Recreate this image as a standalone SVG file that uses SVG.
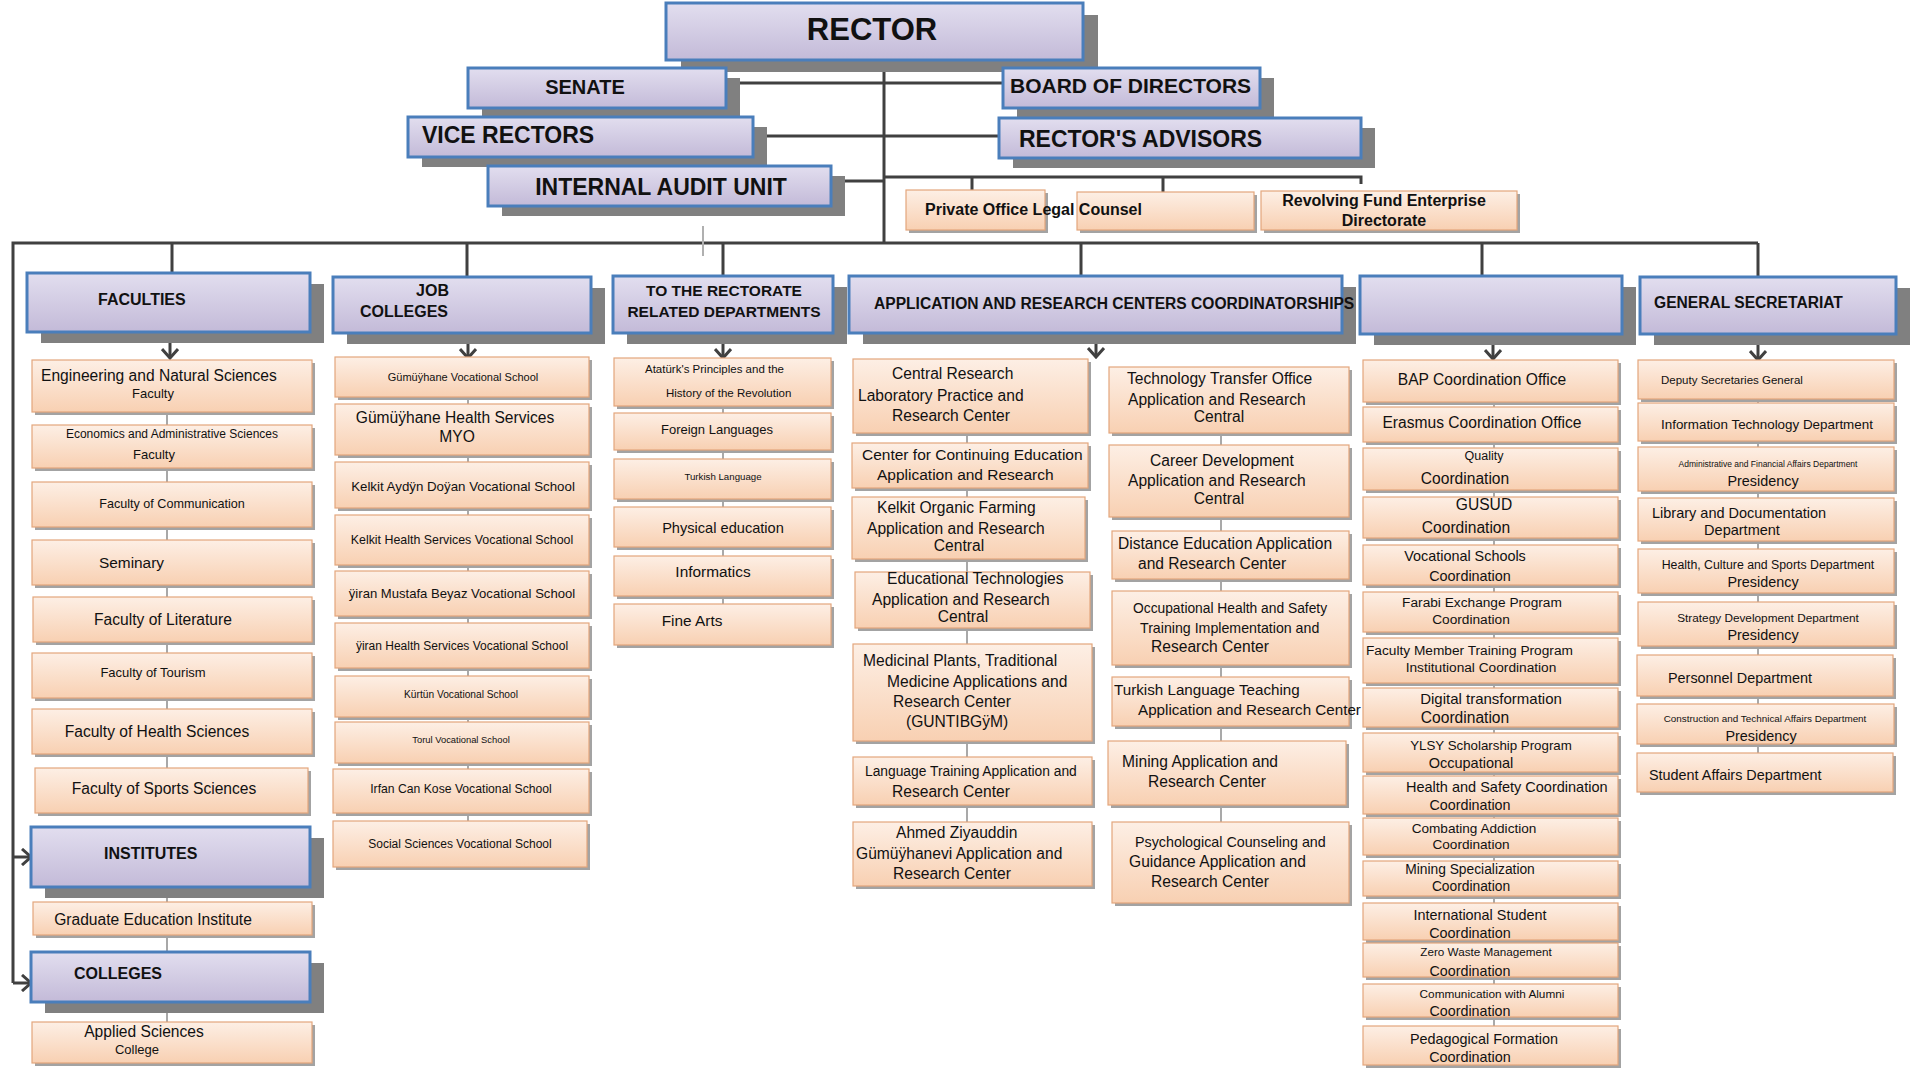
<svg xmlns="http://www.w3.org/2000/svg" width="1910" height="1072" viewBox="0 0 1910 1072">
<defs>
<linearGradient id="gP" x1="0" y1="0" x2="0" y2="1"><stop offset="0" stop-color="#e2deef"/><stop offset="1" stop-color="#c3bad8"/></linearGradient>
<linearGradient id="gO" x1="0" y1="0" x2="0" y2="1"><stop offset="0" stop-color="#fdefe5"/><stop offset="1" stop-color="#f8d0b2"/></linearGradient>
<marker id="ah" viewBox="0 0 12 18" refX="10" refY="9" markerWidth="12" markerHeight="18" markerUnits="userSpaceOnUse" orient="auto"><path d="M1,1 L10,9 L1,17" fill="none" stroke="#404040" stroke-width="3"/></marker>
<style>
.hb{fill:url(#gP);stroke:#4a7ebb;stroke-width:3}
.hs{fill:#808080}
.ob{fill:url(#gO);stroke:#e3a67c;stroke-width:1.2}
.os{fill:#a3a3a3}
.t{font-family:"Liberation Sans",Arial,Helvetica,sans-serif;fill:#111}
.b{font-weight:bold}
.m{text-anchor:middle}
.e{text-anchor:end}
.ln{stroke:#404040;stroke-width:3;fill:none}
.cn{stroke:#8c8c8c;stroke-width:1.5;fill:none}
</style>
</defs>
<rect width="1910" height="1072" fill="#ffffff"/>

<g id="connectors">
<path class="ln" d="M884,60 V243"/>
<path class="ln" d="M726,83 H1003"/>
<path class="ln" d="M753,136 H999"/>
<path class="ln" d="M831,181 H884"/>
<path class="ln" d="M884,177 H1361 V184 M972,177 V190 M1163,177 V192"/>
<path class="ln" d="M13,983 V243 H1758"/>
<path class="ln" d="M172,243 V273 M467,243 V277 M723,243 V276 M1081,243 V276 M1482,243 V276 M1758,243 V277"/>
<path class="ln" marker-end="url(#ah)" d="M170,332 V358"/>
<path class="ln" marker-end="url(#ah)" d="M468,333 V358"/>
<path class="ln" marker-end="url(#ah)" d="M723,333 V358"/>
<path class="ln" marker-end="url(#ah)" d="M1096,333 V357"/>
<path class="ln" marker-end="url(#ah)" d="M1493,334 V359"/>
<path class="ln" marker-end="url(#ah)" d="M1758,334 V360"/>
<path class="ln" marker-end="url(#ah)" d="M13,857 H31"/>
<path class="ln" marker-end="url(#ah)" d="M13,983 H31"/>
<path d="M703,226 V256" stroke="#b0b0b0" stroke-width="2"/>
<path class="cn" d="M167,412 V813 M167,887 V1022"/>
<path class="cn" d="M468,397 V821"/>
<path class="cn" d="M723,406 V604"/>
<path class="cn" d="M967,433 V822"/>
<path class="cn" d="M1221,433 V822"/>
<path class="cn" d="M1494,402 V1026"/>
<path class="cn" d="M1758,399 V753"/>
</g>

<g id="rector"><rect class="hs" x="681" y="15" width="417" height="57"/><rect class="hb" x="666" y="3" width="417" height="57"/><text class="t b m" x="872" y="40" font-size="31">RECTOR</text></g>
<g id="senate"><rect class="hs" x="482" y="78" width="258" height="40"/><rect class="hb" x="468" y="68" width="258" height="40"/><text class="t b m" x="585" y="94" font-size="20">SENATE</text></g>
<g id="vice-rectors"><rect class="hs" x="422" y="127" width="345" height="40"/><rect class="hb" x="408" y="117" width="345" height="40"/><text class="t b" x="422" y="143" font-size="23">VICE RECTORS</text></g>
<g id="internal-audit"><rect class="hs" x="502" y="176" width="343" height="40"/><rect class="hb" x="488" y="166" width="343" height="40"/><text class="t b m" x="661" y="195" font-size="23">INTERNAL AUDIT UNIT</text></g>
<g id="board"><rect class="hs" x="1017" y="78" width="257" height="40"/><rect class="hb" x="1003" y="68" width="257" height="40"/><text class="t b" x="1010" y="93" font-size="21">BOARD OF DIRECTORS</text></g>
<g id="advisors"><rect class="hs" x="1013" y="128" width="362" height="40"/><rect class="hb" x="999" y="118" width="362" height="40"/><text class="t b" x="1019" y="147" font-size="23">RECTOR'S ADVISORS</text></g>
<g id="empty-office"><rect class="os" x="1080" y="195" width="177" height="38"/><rect class="ob" x="1077" y="192" width="177" height="38"/></g>
<g id="private-office"><rect class="os" x="909" y="193" width="139" height="40"/><rect class="ob" x="906" y="190" width="139" height="40"/><text class="t b" x="925" y="215" font-size="16">Private Office Legal Counsel</text></g>
<g id="revolving-fund"><rect class="os" x="1264" y="194" width="256" height="39"/><rect class="ob" x="1261" y="191" width="256" height="39"/><text class="t b m" x="1384" y="206" font-size="16">Revolving Fund Enterprise</text><text class="t b m" x="1384" y="226" font-size="16">Directorate</text></g>

<g id="faculties"><rect class="hs" x="41" y="284" width="283" height="59"/><rect class="hb" x="27" y="273" width="283" height="59"/><text class="t b" x="98" y="305" font-size="16">FACULTIES</text></g>
<g id="f-engineering"><rect class="os" x="35" y="363" width="280" height="52"/><rect class="ob" x="32" y="360" width="280" height="52"/><text class="t" x="41" y="381" font-size="15.6">Engineering and Natural Sciences</text><text class="t m" x="153" y="398" font-size="13">Faculty</text></g>
<g id="f-economics"><rect class="os" x="35" y="428" width="280" height="43"/><rect class="ob" x="32" y="425" width="280" height="43"/><text class="t m" x="172" y="438" font-size="12">Economics and Administrative Sciences</text><text class="t m" x="154" y="459" font-size="13">Faculty</text></g>
<g id="f-communication"><rect class="os" x="35" y="485" width="280" height="45"/><rect class="ob" x="32" y="482" width="280" height="45"/><text class="t m" x="172" y="508" font-size="12.6">Faculty of Communication</text></g>
<g id="f-seminary"><rect class="os" x="35" y="543" width="280" height="45"/><rect class="ob" x="32" y="540" width="280" height="45"/><text class="t" x="99" y="568" font-size="15.4">Seminary</text></g>
<g id="f-literature"><rect class="os" x="36" y="600" width="279" height="45"/><rect class="ob" x="33" y="597" width="279" height="45"/><text class="t m" x="163" y="625" font-size="15.6">Faculty of Literature</text></g>
<g id="f-tourism"><rect class="os" x="35" y="656" width="280" height="45"/><rect class="ob" x="32" y="653" width="280" height="45"/><text class="t m" x="153" y="677" font-size="13">Faculty of Tourism</text></g>
<g id="f-health"><rect class="os" x="35" y="712" width="280" height="45"/><rect class="ob" x="32" y="709" width="280" height="45"/><text class="t m" x="157" y="737" font-size="15.6">Faculty of Health Sciences</text></g>
<g id="f-sports"><rect class="os" x="38" y="771" width="273" height="45"/><rect class="ob" x="35" y="768" width="273" height="45"/><text class="t m" x="164" y="794" font-size="15.6">Faculty of Sports Sciences</text></g>
<g id="institutes"><rect class="hs" x="45" y="838" width="279" height="60"/><rect class="hb" x="31" y="827" width="279" height="60"/><text class="t b" x="104" y="859" font-size="16">INSTITUTES</text></g>
<g id="graduate"><rect class="os" x="36" y="905" width="279" height="33"/><rect class="ob" x="33" y="902" width="279" height="33"/><text class="t m" x="153" y="925" font-size="15.6">Graduate Education Institute</text></g>
<g id="colleges"><rect class="hs" x="45" y="963" width="279" height="50"/><rect class="hb" x="31" y="952" width="279" height="50"/><text class="t b" x="74" y="979" font-size="16">COLLEGES</text></g>
<g id="applied"><rect class="os" x="35" y="1025" width="280" height="41"/><rect class="ob" x="32" y="1022" width="280" height="41"/><text class="t m" x="144" y="1037" font-size="15.6">Applied Sciences</text><text class="t m" x="137" y="1054" font-size="13">College</text></g>

<g id="job-colleges"><rect class="hs" x="347" y="288" width="258" height="56"/><rect class="hb" x="333" y="277" width="258" height="56"/><text class="t b e" x="449" y="296" font-size="16">JOB</text><text class="t b e" x="448" y="317" font-size="16">COLLEGES</text></g>
<g id="j1"><rect class="os" x="338" y="360" width="254" height="40"/><rect class="ob" x="335" y="357" width="254" height="40"/><text class="t m" x="463" y="381" font-size="11">Gümüÿhane Vocational School</text></g>
<g id="j2"><rect class="os" x="338" y="407" width="254" height="51"/><rect class="ob" x="335" y="404" width="254" height="51"/><text class="t m" x="455" y="423" font-size="15.6">Gümüÿhane Health Services</text><text class="t m" x="457" y="442" font-size="15.6">MYO</text></g>
<g id="j3"><rect class="os" x="338" y="465" width="254" height="46"/><rect class="ob" x="335" y="462" width="254" height="46"/><text class="t m" x="463" y="491" font-size="13.3">Kelkit Aydÿn Doÿan Vocational School</text></g>
<g id="j4"><rect class="os" x="338" y="518" width="254" height="50"/><rect class="ob" x="335" y="515" width="254" height="50"/><text class="t m" x="462" y="544" font-size="12.4">Kelkit Health Services Vocational School</text></g>
<g id="j5"><rect class="os" x="338" y="574" width="254" height="45"/><rect class="ob" x="335" y="571" width="254" height="45"/><text class="t m" x="462" y="598" font-size="13.1">ÿiran Mustafa Beyaz Vocational School</text></g>
<g id="j6"><rect class="os" x="338" y="626" width="254" height="45"/><rect class="ob" x="335" y="623" width="254" height="45"/><text class="t m" x="462" y="650" font-size="12">ÿiran Health Services Vocational School</text></g>
<g id="j7"><rect class="os" x="338" y="679" width="254" height="41"/><rect class="ob" x="335" y="676" width="254" height="41"/><text class="t m" x="461" y="698" font-size="10.2">Kürtün Vocational School</text></g>
<g id="j8"><rect class="os" x="338" y="725" width="254" height="41"/><rect class="ob" x="335" y="722" width="254" height="41"/><text class="t m" x="461" y="743" font-size="9.4">Torul Vocational School</text></g>
<g id="j9"><rect class="os" x="336" y="772" width="256" height="44"/><rect class="ob" x="333" y="769" width="256" height="44"/><text class="t m" x="461" y="793" font-size="12.2">Irfan Can Kose Vocational School</text></g>
<g id="j10"><rect class="os" x="336" y="824" width="254" height="46"/><rect class="ob" x="333" y="821" width="254" height="46"/><text class="t m" x="460" y="848" font-size="12">Social Sciences Vocational School</text></g>

<g id="rectorate-depts"><rect class="hs" x="627" y="287" width="220" height="57"/><rect class="hb" x="613" y="276" width="220" height="57"/><text class="t b m" x="724" y="296" font-size="15.5">TO THE RECTORATE</text><text class="t b m" x="724" y="317" font-size="15.5">RELATED DEPARTMENTS</text></g>
<g id="r1"><rect class="os" x="617" y="361" width="217" height="48"/><rect class="ob" x="614" y="358" width="217" height="48"/><text class="t" x="645" y="373" font-size="11.5">Atatürk's Principles and the</text><text class="t" x="666" y="397" font-size="11.5">History of the Revolution</text></g>
<g id="r2"><rect class="os" x="617" y="416" width="217" height="37"/><rect class="ob" x="614" y="413" width="217" height="37"/><text class="t m" x="717" y="434" font-size="13">Foreign Languages</text></g>
<g id="r3"><rect class="os" x="617" y="462" width="217" height="40"/><rect class="ob" x="614" y="459" width="217" height="40"/><text class="t m" x="723" y="480" font-size="9.7">Turkish Language</text></g>
<g id="r4"><rect class="os" x="617" y="510" width="217" height="40"/><rect class="ob" x="614" y="507" width="217" height="40"/><text class="t m" x="723" y="533" font-size="14.6">Physical education</text></g>
<g id="r5"><rect class="os" x="617" y="559" width="217" height="40"/><rect class="ob" x="614" y="556" width="217" height="40"/><text class="t m" x="713" y="577" font-size="15.4">Informatics</text></g>
<g id="r6"><rect class="os" x="617" y="607" width="217" height="41"/><rect class="ob" x="614" y="604" width="217" height="41"/><text class="t m" x="692" y="626" font-size="15.4">Fine Arts</text></g>

<g id="coordination"><rect class="hs" x="1374" y="287" width="262" height="58"/><rect class="hb" x="1360" y="276" width="262" height="58"/></g>
<g id="app-research"><rect class="hs" x="863" y="287" width="493" height="57"/><rect class="hb" x="849" y="276" width="493" height="57"/><text class="t b" x="874" y="309" font-size="15.6">APPLICATION AND RESEARCH CENTERS COORDINATORSHIPS</text></g>
<g id="a1"><rect class="os" x="856" y="362" width="235" height="74"/><rect class="ob" x="853" y="359" width="235" height="74"/><text class="t" font-size="15.6"><tspan x="892" y="379">Central Research</tspan><tspan x="858" y="401">Laboratory Practice and</tspan><tspan x="892" y="421">Research Center</tspan></text></g>
<g id="a2"><rect class="os" x="855" y="446" width="236" height="45"/><rect class="ob" x="852" y="443" width="236" height="45"/><text class="t" font-size="15.5"><tspan x="862" y="460">Center for Continuing Education</tspan><tspan x="877" y="480">Application and Research</tspan></text></g>
<g id="a3"><rect class="os" x="855" y="500" width="233" height="62"/><rect class="ob" x="852" y="497" width="233" height="62"/><text class="t" font-size="15.6"><tspan x="877" y="513">Kelkit Organic Farming</tspan><tspan x="867" y="534">Application and Research</tspan><tspan x="959" y="551" text-anchor="middle">Central</tspan></text></g>
<g id="a4"><rect class="os" x="858" y="575" width="235" height="56"/><rect class="ob" x="855" y="572" width="235" height="56"/><text class="t" font-size="15.6"><tspan x="887" y="584">Educational Technologies</tspan><tspan x="872" y="605">Application and Research</tspan><tspan x="963" y="622" text-anchor="middle">Central</tspan></text></g>
<g id="a5"><rect class="os" x="856" y="647" width="239" height="97"/><rect class="ob" x="853" y="644" width="239" height="97"/><text class="t" font-size="15.6"><tspan x="863" y="666">Medicinal Plants, Traditional</tspan><tspan x="887" y="687">Medicine Applications and</tspan><tspan x="893" y="707">Research Center</tspan><tspan x="906" y="727">(GUNTIBGÿM)</tspan></text></g>
<g id="a6"><rect class="os" x="856" y="760" width="239" height="48"/><rect class="ob" x="853" y="757" width="239" height="48"/><text class="t" x="865" y="776" font-size="13.8">Language Training Application and</text><text class="t" x="892" y="797" font-size="15.6">Research Center</text></g>
<g id="a7"><rect class="os" x="856" y="825" width="239" height="64"/><rect class="ob" x="853" y="822" width="239" height="64"/><text class="t" font-size="15.6"><tspan x="896" y="838">Ahmed Ziyauddin</tspan><tspan x="856" y="859">Gümüÿhanevi Application and</tspan><tspan x="893" y="879">Research Center</tspan></text></g>
<g id="b1"><rect class="os" x="1112" y="370" width="240" height="66"/><rect class="ob" x="1109" y="367" width="240" height="66"/><text class="t" font-size="15.6"><tspan x="1127" y="384">Technology Transfer Office</tspan><tspan x="1128" y="405">Application and Research</tspan><tspan x="1219" y="422" text-anchor="middle">Central</tspan></text></g>
<g id="b2"><rect class="os" x="1112" y="448" width="240" height="72"/><rect class="ob" x="1109" y="445" width="240" height="72"/><text class="t" font-size="15.6"><tspan x="1150" y="466">Career Development</tspan><tspan x="1128" y="486">Application and Research</tspan><tspan x="1219" y="504" text-anchor="middle">Central</tspan></text></g>
<g id="b3"><rect class="os" x="1115" y="534" width="237" height="48"/><rect class="ob" x="1112" y="531" width="237" height="48"/><text class="t" font-size="15.6"><tspan x="1118" y="549">Distance Education Application</tspan><tspan x="1138" y="569">and Research Center</tspan></text></g>
<g id="b4"><rect class="os" x="1115" y="594" width="237" height="74"/><rect class="ob" x="1112" y="591" width="237" height="74"/><text class="t" x="1133" y="613" font-size="13.8">Occupational Health and Safety</text><text class="t" x="1140" y="633" font-size="14.2">Training Implementation and</text><text class="t" x="1151" y="652" font-size="15.6">Research Center</text></g>
<g id="b5"><rect class="os" x="1115" y="680" width="237" height="49"/><rect class="ob" x="1112" y="677" width="237" height="49"/><text class="t" font-size="15.2"><tspan x="1114" y="695">Turkish Language Teaching</tspan><tspan x="1138" y="715">Application and Research Center</tspan></text></g>
<g id="b6"><rect class="os" x="1111" y="744" width="238" height="64"/><rect class="ob" x="1108" y="741" width="238" height="64"/><text class="t" font-size="15.6"><tspan x="1122" y="767">Mining Application and</tspan><tspan x="1148" y="787">Research Center</tspan></text></g>
<g id="b7"><rect class="os" x="1115" y="825" width="237" height="81"/><rect class="ob" x="1112" y="822" width="237" height="81"/><text class="t" x="1135" y="847" font-size="14.3">Psychological Counseling and</text><text class="t" font-size="15.6"><tspan x="1129" y="867">Guidance Application and</tspan><tspan x="1151" y="887">Research Center</tspan></text></g>

<g id="c1"><rect class="os" x="1366" y="363" width="255" height="42"/><rect class="ob" x="1363" y="360" width="255" height="42"/><text class="t m" x="1482" y="385" font-size="15.6">BAP Coordination Office</text></g>
<g id="c2"><rect class="os" x="1366" y="410" width="255" height="35"/><rect class="ob" x="1363" y="407" width="255" height="35"/><text class="t m" x="1482" y="428" font-size="15.6">Erasmus Coordination Office</text></g>
<g id="c3"><rect class="os" x="1366" y="451" width="255" height="42"/><rect class="ob" x="1363" y="448" width="255" height="42"/><text class="t m" x="1484" y="460" font-size="12.5">Quality</text><text class="t m" x="1465" y="484" font-size="15.6">Coordination</text></g>
<g id="c4"><rect class="os" x="1366" y="500" width="255" height="41"/><rect class="ob" x="1363" y="497" width="255" height="41"/><text class="t m" x="1484" y="510" font-size="15.6">GUSUD</text><text class="t m" x="1466" y="533" font-size="15.6">Coordination</text></g>
<g id="c5"><rect class="os" x="1366" y="548" width="255" height="40"/><rect class="ob" x="1363" y="545" width="255" height="40"/><text class="t m" x="1465" y="561" font-size="14.4">Vocational Schools</text><text class="t m" x="1470" y="581" font-size="14.4">Coordination</text></g>
<g id="c6"><rect class="os" x="1366" y="595" width="255" height="40"/><rect class="ob" x="1363" y="592" width="255" height="40"/><text class="t m" x="1482" y="607" font-size="13.7">Farabi Exchange Program</text><text class="t m" x="1471" y="624" font-size="13.7">Coordination</text></g>
<g id="c7"><rect class="os" x="1366" y="641" width="255" height="45"/><rect class="ob" x="1363" y="638" width="255" height="45"/><text class="t" x="1366" y="655" font-size="13.7">Faculty Member Training Program</text><text class="t m" x="1481" y="672" font-size="13.7">Institutional Coordination</text></g>
<g id="c8"><rect class="os" x="1366" y="691" width="255" height="39"/><rect class="ob" x="1363" y="688" width="255" height="39"/><text class="t m" x="1491" y="704" font-size="15">Digital transformation</text><text class="t m" x="1465" y="723" font-size="15.6">Coordination</text></g>
<g id="c9"><rect class="os" x="1366" y="736" width="255" height="39"/><rect class="ob" x="1363" y="733" width="255" height="39"/><text class="t m" x="1491" y="750" font-size="13.3">YLSY Scholarship Program</text><text class="t m" x="1471" y="768" font-size="14.5">Occupational</text></g>
<g id="c10"><rect class="os" x="1366" y="779" width="255" height="38"/><rect class="ob" x="1363" y="776" width="255" height="38"/><text class="t" x="1406" y="792" font-size="14.5">Health and Safety Coordination</text><text class="t m" x="1470" y="810" font-size="14.3">Coordination</text></g>
<g id="c11"><rect class="os" x="1366" y="821" width="255" height="37"/><rect class="ob" x="1363" y="818" width="255" height="37"/><text class="t m" x="1474" y="833" font-size="13.6">Combating Addiction</text><text class="t m" x="1471" y="849" font-size="13.6">Coordination</text></g>
<g id="c12"><rect class="os" x="1366" y="864" width="255" height="35"/><rect class="ob" x="1363" y="861" width="255" height="35"/><text class="t m" x="1470" y="874" font-size="13.8">Mining Specialization</text><text class="t m" x="1471" y="891" font-size="13.8">Coordination</text></g>
<g id="c13"><rect class="os" x="1366" y="906" width="255" height="37"/><rect class="ob" x="1363" y="903" width="255" height="37"/><text class="t m" x="1480" y="920" font-size="14.4">International Student</text><text class="t m" x="1470" y="938" font-size="14.4">Coordination</text></g>
<g id="c14"><rect class="os" x="1366" y="946" width="255" height="34"/><rect class="ob" x="1363" y="943" width="255" height="34"/><text class="t m" x="1486" y="956" font-size="11.7">Zero Waste Management</text><text class="t m" x="1470" y="976" font-size="14.3">Coordination</text></g>
<g id="c15"><rect class="os" x="1366" y="987" width="255" height="33"/><rect class="ob" x="1363" y="984" width="255" height="33"/><text class="t m" x="1492" y="998" font-size="11.8">Communication with Alumni</text><text class="t m" x="1470" y="1016" font-size="14.3">Coordination</text></g>
<g id="c16"><rect class="os" x="1366" y="1029" width="255" height="39"/><rect class="ob" x="1363" y="1026" width="255" height="39"/><text class="t m" x="1484" y="1044" font-size="14.4">Pedagogical Formation</text><text class="t m" x="1470" y="1062" font-size="14.4">Coordination</text></g>

<g id="general-secretariat"><rect class="hs" x="1654" y="288" width="256" height="57"/><rect class="hb" x="1640" y="277" width="256" height="57"/><text class="t b" x="1654" y="308" font-size="15.6">GENERAL SECRETARIAT</text></g>
<g id="g1"><rect class="os" x="1641" y="363" width="256" height="39"/><rect class="ob" x="1638" y="360" width="256" height="39"/><text class="t" x="1661" y="384" font-size="11.5">Deputy Secretaries General</text></g>
<g id="g2"><rect class="os" x="1641" y="406" width="256" height="38"/><rect class="ob" x="1638" y="403" width="256" height="38"/><text class="t" x="1661" y="429" font-size="13.4">Information Technology Department</text></g>
<g id="g3"><rect class="os" x="1641" y="450" width="256" height="44"/><rect class="ob" x="1638" y="447" width="256" height="44"/><text class="t m" x="1768" y="467" font-size="8.5">Administrative and Financial Affairs Department</text><text class="t m" x="1763" y="486" font-size="14.4">Presidency</text></g>
<g id="g4"><rect class="os" x="1641" y="501" width="256" height="43"/><rect class="ob" x="1638" y="498" width="256" height="43"/><text class="t" x="1652" y="518" font-size="14.5">Library and Documentation</text><text class="t m" x="1742" y="535" font-size="14.5">Department</text></g>
<g id="g5"><rect class="os" x="1641" y="552" width="256" height="44"/><rect class="ob" x="1638" y="549" width="256" height="44"/><text class="t m" x="1768" y="569" font-size="12.3">Health, Culture and Sports Department</text><text class="t m" x="1763" y="587" font-size="14.4">Presidency</text></g>
<g id="g6"><rect class="os" x="1641" y="605" width="256" height="44"/><rect class="ob" x="1638" y="602" width="256" height="44"/><text class="t m" x="1768" y="622" font-size="11.8">Strategy Development Department</text><text class="t m" x="1763" y="640" font-size="14.4">Presidency</text></g>
<g id="g7"><rect class="os" x="1640" y="658" width="256" height="41"/><rect class="ob" x="1637" y="655" width="256" height="41"/><text class="t" x="1668" y="683" font-size="14.4">Personnel Department</text></g>
<g id="g8"><rect class="os" x="1640" y="707" width="257" height="40"/><rect class="ob" x="1637" y="704" width="257" height="40"/><text class="t m" x="1765" y="722" font-size="9.9">Construction and Technical Affairs Department</text><text class="t m" x="1761" y="741" font-size="14.4">Presidency</text></g>
<g id="g9"><rect class="os" x="1640" y="756" width="256" height="39"/><rect class="ob" x="1637" y="753" width="256" height="39"/><text class="t" x="1649" y="780" font-size="14.4">Student Affairs Department</text></g>
</svg>
